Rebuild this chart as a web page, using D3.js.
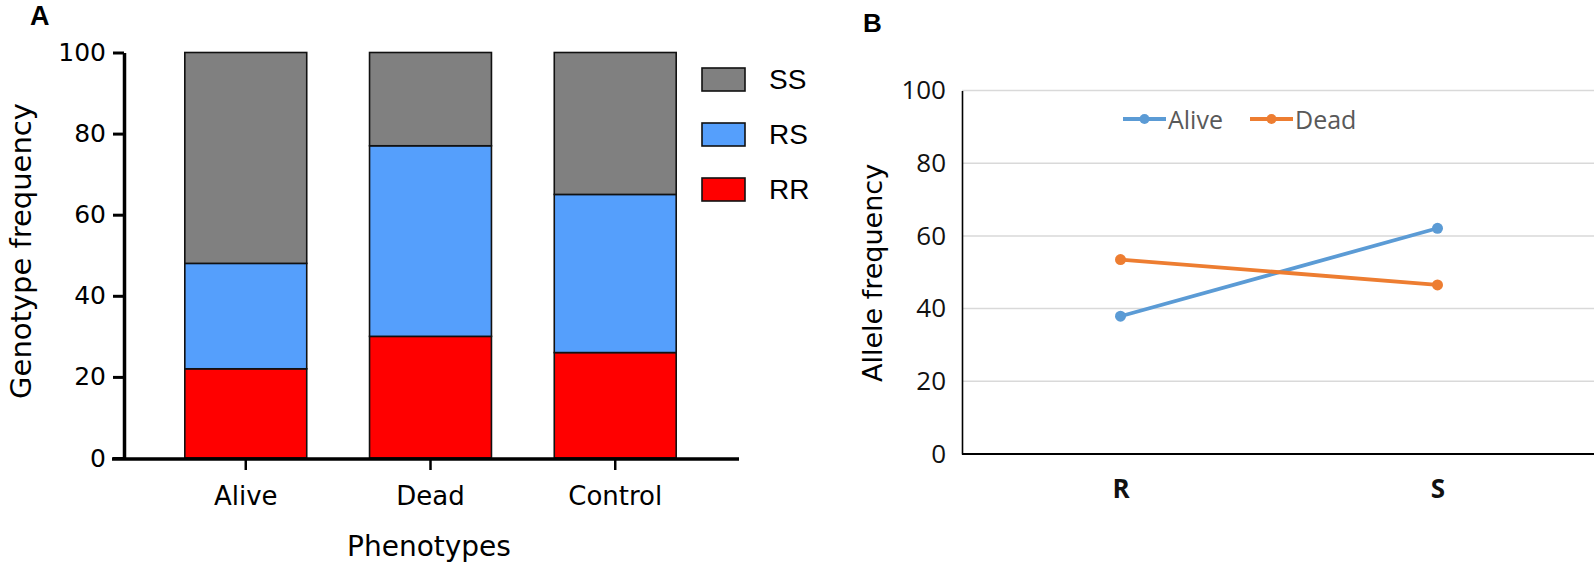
<!DOCTYPE html>
<html>
<head>
<meta charset="utf-8">
<script src="https://cdn.jsdelivr.net/npm/d3@7"></script>
<style>
  html, body { margin: 0; padding: 0; background: #fff; }
  svg { display: block; }
</style>
</head>
<body>
<svg id="chart" width="1594" height="565"></svg>
<script>
// ---- Data: Panel A (genotype frequency, stacked) ----
const phenotypes = ["Alive", "Dead", "Control"];
const genotypes = ["RR", "RS", "SS"];
const RR = [22, 30, 26];
const RS = [26, 47, 39];
const SS = [52, 23, 35];
const yTicksA = [0, 20, 40, 60, 80, 100];
const legendOrderA = ["SS", "RS", "RR"];

// ---- Data: Panel B (allele frequency, lines) ----
const alleles = ["R", "S"];
const aliveAllele = [37.9, 62.1];
const deadAllele = [53.5, 46.5];
const yTicksB = [0, 20, 40, 60, 80, 100];
const seriesB = ["Alive", "Dead"];

const colorsA = { SS: "#808080", RS: "#559ffc", RR: "#ff0000" };
const colorsB = { Alive: "#5b9bd5", Dead: "#ed7d31" };

const svg = d3.select("#chart");

// ================= PANEL A =================
const A = svg.append("g");
const yA = d3.scaleLinear().domain([0, 100]).range([458, 52.5]);
const xA = d3.scaleBand().domain(phenotypes).range([122, 739]).paddingInner(0.34).paddingOuter(0.34);

const table = phenotypes.map((p, i) => ({ phenotype: p, RR: RR[i], RS: RS[i], SS: SS[i] }));
const stacked = d3.stack().keys(genotypes)(table);

A.selectAll("g.layer").data(stacked).join("g")
  .attr("class", "layer")
  .attr("fill", d => colorsA[d.key])
  .selectAll("rect").data(d => d).join("rect")
  .attr("x", d => xA(d.data.phenotype))
  .attr("width", xA.bandwidth())
  .attr("y", d => yA(d[1]))
  .attr("height", d => yA(d[0]) - yA(d[1]))
  .attr("stroke", "#111")
  .attr("stroke-width", 1.6);

// y axis
const yAxisA = d3.axisLeft(yA).tickValues(yTicksA).tickSize(11).tickPadding(7).tickSizeOuter(0);
const gyA = A.append("g").attr("transform", "translate(124,0)").call(yAxisA);
gyA.select(".domain").attr("stroke", "#000").attr("stroke-width", 3.5);
gyA.selectAll(".tick line").attr("stroke", "#000").attr("stroke-width", 3);
gyA.selectAll(".tick text").attr("font-family", "DejaVu Sans").attr("font-size", 25).attr("fill", "#000");

// x axis
const xAxisA = d3.axisBottom(xA).tickSize(11).tickPadding(17).tickSizeOuter(0);
const gxA = A.append("g").attr("transform", "translate(0,459)").call(xAxisA);
gxA.select(".domain").remove();
gxA.append("line").attr("x1", 112).attr("x2", 739).attr("stroke", "#000").attr("stroke-width", 3.5);
gxA.selectAll(".tick line").attr("stroke", "#000").attr("stroke-width", 2.5);
gxA.selectAll(".tick text").attr("font-family", "DejaVu Sans").attr("font-size", 26).attr("fill", "#000");

// titles
A.append("text").attr("transform", "translate(21,251) rotate(-90)")
  .attr("text-anchor", "middle").attr("dominant-baseline", "central")
  .attr("font-family", "DejaVu Sans").attr("font-size", 29).text("Genotype frequency");
A.append("text").attr("x", 429).attr("y", 556).attr("text-anchor", "middle")
  .attr("font-family", "DejaVu Sans").attr("font-size", 28).text("Phenotypes");
A.append("text").attr("x", 30).attr("y", 25)
  .attr("font-family", "Liberation Sans").attr("font-weight", "bold").attr("font-size", 27).text("A");

// legend A
const legA = A.append("g").selectAll("g").data(legendOrderA).join("g")
  .attr("transform", (d, i) => `translate(702,${68 + i * 55})`);
legA.append("rect").attr("width", 43).attr("height", 23)
  .attr("fill", d => colorsA[d]).attr("stroke", "#111").attr("stroke-width", 1.6);
legA.append("text").attr("x", 67).attr("y", 21)
  .attr("font-family", "Liberation Sans").attr("font-size", 28).text(d => d);

// ================= PANEL B =================
const B = svg.append("g");
const yB = d3.scaleLinear().domain([0, 100]).range([454, 90.5]);
const xB = d3.scalePoint().domain(alleles).range([962, 1596]).padding(0.5);

// gridlines
B.append("g").selectAll("line").data(yTicksB.filter(v => v > 0)).join("line")
  .attr("x1", 962).attr("x2", 1594)
  .attr("y1", d => yB(d)).attr("y2", d => yB(d))
  .attr("stroke", "#d9d9d9").attr("stroke-width", 1.5);

const yAxisB = d3.axisLeft(yB).tickValues(yTicksB).tickSize(0).tickPadding(16);
const gyB = B.append("g").attr("transform", "translate(962,0)").call(yAxisB);
gyB.select(".domain").attr("stroke", "#000").attr("stroke-width", 1.6);
gyB.selectAll(".tick text").attr("font-family", "Open Sans").attr("font-size", 26).attr("fill", "#111");

const xAxisB = d3.axisBottom(xB).tickSize(0).tickPadding(26);
const gxB = B.append("g").attr("transform", "translate(0,454)").call(xAxisB);
gxB.select(".domain").remove();
gxB.append("line").attr("x1", 962).attr("x2", 1594).attr("stroke", "#000").attr("stroke-width", 2);
gxB.selectAll(".tick text").attr("font-family", "Open Sans").attr("font-weight", "bold")
  .attr("font-size", 26).attr("fill", "#111");

const lineB = d3.line().x((d, i) => xB(alleles[i])).y(d => yB(d));
const seriesData = [{ name: "Alive", values: aliveAllele }, { name: "Dead", values: deadAllele }];
const sg = B.append("g").selectAll("g").data(seriesData).join("g");
sg.append("path").attr("d", d => lineB(d.values)).attr("fill", "none")
  .attr("stroke", d => colorsB[d.name]).attr("stroke-width", 3.8);
sg.selectAll("circle").data(d => d.values.map((v, i) => ({ v, i, name: d.name }))).join("circle")
  .attr("cx", d => xB(alleles[d.i])).attr("cy", d => yB(d.v)).attr("r", 5.5)
  .attr("fill", d => colorsB[d.name]);

B.append("text").attr("transform", "translate(872,273) rotate(-90)")
  .attr("text-anchor", "middle").attr("dominant-baseline", "central")
  .attr("font-family", "DejaVu Sans").attr("font-size", 27).text("Allele frequency");
B.append("text").attr("x", 863).attr("y", 32)
  .attr("font-family", "Liberation Sans").attr("font-weight", "bold").attr("font-size", 26).text("B");

// legend B
const legB = B.append("g").selectAll("g").data(seriesB).join("g")
  .attr("transform", (d, i) => `translate(${1123 + i * 127},119)`);
legB.append("line").attr("x1", 0).attr("x2", 43).attr("stroke", d => colorsB[d]).attr("stroke-width", 3.8);
legB.append("circle").attr("cx", 21.5).attr("r", 5).attr("fill", d => colorsB[d]);
legB.append("text").attr("x", 45).attr("y", 0).attr("dominant-baseline", "central")
  .attr("font-family", "Open Sans").attr("font-size", 25).attr("fill", "#595959").text(d => d);
</script>
</body>
</html>
